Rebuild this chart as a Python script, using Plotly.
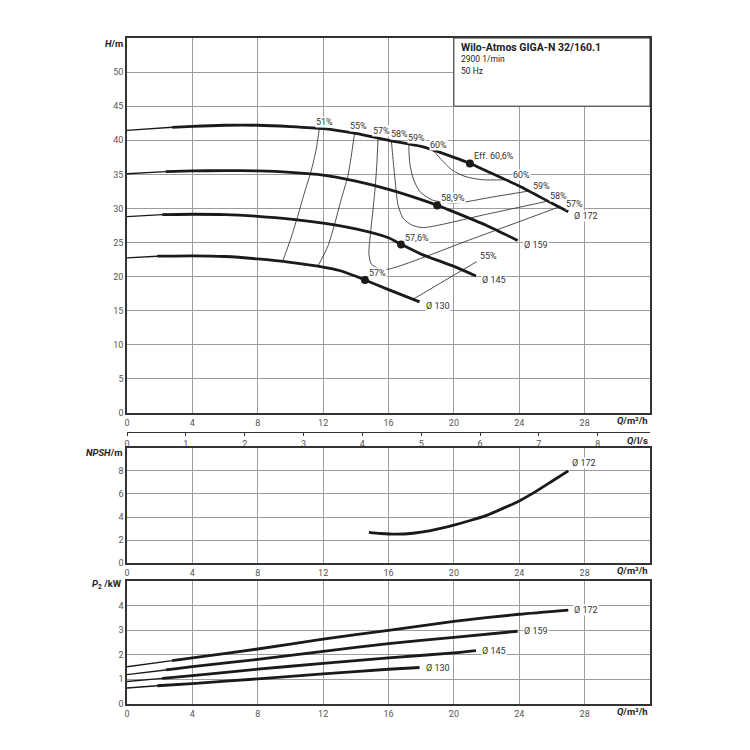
import plotly.graph_objects as go

# ---------------- data ----------------
diameters = ["Ø 172", "Ø 159", "Ø 145", "Ø 130"]

# Q-H curves (Q in m3/h, H in m); first two points = thin extrapolated start
Q_172 = [0, 2.76, 4, 6, 8, 10, 12, 14, 16, 18, 20, 21, 22, 24, 26, 27]
H_172 = [41.45, 41.9, 42.05, 42.2, 42.2, 42.0, 41.7, 41.0, 40.0, 39.1, 37.5, 36.6, 35.5, 33.3, 30.75, 29.5]
Q_159 = [0, 2.36, 4, 6, 8, 10, 12, 14, 16, 18, 19, 20, 22, 23.9]
H_159 = [35.1, 35.4, 35.5, 35.55, 35.5, 35.3, 34.9, 34.0, 32.8, 31.3, 30.45, 29.5, 27.5, 25.3]
Q_145 = [0, 2.15, 4, 6, 8, 10, 12, 14, 16, 16.8, 18, 20, 21.35]
H_145 = [28.8, 29.1, 29.15, 29.1, 28.85, 28.45, 27.85, 27.0, 25.7, 24.7, 23.3, 21.5, 20.1]
Q_130 = [0, 1.85, 4, 6, 8, 10, 12, 13, 14, 14.56, 16, 17.9]
H_130 = [22.75, 23.0, 23.05, 22.95, 22.6, 22.1, 21.4, 20.9, 20.05, 19.5, 18.1, 16.3]

# best efficiency points
bep_Q = [20.98, 18.98, 16.77, 14.56]
bep_H = [36.6, 30.45, 24.7, 19.5]
bep_text = ["Eff. 60,6%", "58,9%", "57,6%", ""]

# iso-efficiency lines
eta51_Q = [11.77, 11.57, 11.26, 10.85, 10.44, 10.03, 9.52]
eta51_H = [41.75, 38.63, 35.44, 32.26, 28.82, 25.65, 22.2]
eta55_Q = [13.92, 13.72, 13.51, 13.1, 12.69, 12.28, 11.67]
eta55_H = [41.05, 37.65, 34.7, 31.28, 27.6, 24.4, 21.5]
eta55b_Q = [17.55, 21.4]
eta55b_H = [16.75, 22.2]
eta57_Q = [15.36, 15.29, 15.19, 15.05, 14.9, 14.8, 14.94, 15.36, 15.97, 21.2, 26.41]
eta57_H = [40.3, 36.67, 33.24, 29.8, 26.38, 23.44, 21.87, 21.23, 21.09, 25.6, 30.2]
eta58_Q = [16.17, 16.28, 16.42, 16.58, 16.89, 17.4, 18.12, 22.0, 25.8]
eta58_H = [40.05, 37.16, 33.74, 30.54, 28.59, 27.6, 27.2, 29.15, 31.1]
eta59_Q = [17.24, 17.3, 17.5, 17.91, 18.63, 19.24, 20.06, 22.3, 24.57]
eta59_H = [39.45, 36.67, 34.47, 32.5, 31.28, 30.95, 30.75, 31.65, 32.55]
eta60_Q = [18.73, 19.24, 19.86, 20.68, 21.7, 23.13]
eta60_H = [38.5, 37.16, 35.69, 34.7, 34.22, 34.2]
iso_lines = [(eta51_Q, eta51_H), (eta55_Q, eta55_H), (eta55b_Q, eta55b_H),
             (eta57_Q, eta57_H), (eta58_Q, eta58_H), (eta59_Q, eta59_H), (eta60_Q, eta60_H)]

iso_label_text = ["51%", "55%", "57%", "58%", "59%", "60%", "60%", "59%", "58%", "57%", "57%", "55%"]
iso_label_Q = [12.08, 14.17, 15.56, 16.67, 17.71, 19.08, 24.12, 25.39, 26.41, 27.37, 15.31, 22.1]
iso_label_H = [42.65, 42.06, 41.32, 40.9, 40.35, 39.37, 34.85, 33.34, 31.87, 30.65, 20.6, 23.0]

# NPSH (Ø 172)
Q_npsh = [14.8, 15.5, 16.5, 17.5, 18.5, 20, 21, 22, 23, 24, 25, 26, 27]
NPSH = [2.68, 2.58, 2.52, 2.6, 2.8, 3.3, 3.7, 4.15, 4.75, 5.4, 6.2, 7.1, 8.0]

# P2 power curves (kW)
QP_172 = [0, 2.76, 4, 8, 12, 16, 20, 24, 27]
P_172 = [1.51, 1.76, 1.87, 2.23, 2.63, 2.99, 3.35, 3.64, 3.81]
QP_159 = [0, 2.36, 4, 8, 12, 16, 20, 23.9]
P_159 = [1.19, 1.38, 1.52, 1.81, 2.13, 2.45, 2.70, 2.95]
QP_145 = [0, 2.15, 4, 8, 12, 16, 20, 21.35]
P_145 = [0.91, 1.04, 1.15, 1.41, 1.65, 1.87, 2.07, 2.16]
QP_130 = [0, 1.85, 4, 8, 12, 16, 17.9]
P_130 = [0.65, 0.74, 0.83, 1.02, 1.22, 1.41, 1.48]

q_ticks = [0, 4, 8, 12, 16, 20, 24, 28]
ls_ticks = [0, 1, 2, 3, 4, 5, 6, 7, 8]
h_ticks = [0, 5, 10, 15, 20, 25, 30, 35, 40, 45, 50]
npsh_ticks = [0, 2, 4, 6, 8]
p_ticks = [0, 1, 2, 3, 4]

title_lines = ["Wilo-Atmos GIGA-N 32/160.1", "2900 1/min", "50 Hz"]

# ---------------- figure ----------------
W = Hgt = 750
OFF = 8  # page body margin of the html page
X0, X1, Y0, Y1 = 127, 650, 38, 704  # target screen plot box
ML, MT = X0 - OFF, Y0 - OFF
MR = W + OFF - X1
MB = Hgt + OFF - Y1
PH = Y1 - Y0


def py(p):
    return (Y1 - p) / PH


def px(p):
    return (p - X0) / (X1 - X0)


FONT = "Roboto"
BLACK = "#1a1a1a"
fig = go.Figure()


def curve(Q, V, xa, ya):
    # thin extrapolated start, thick main part
    fig.add_trace(go.Scatter(x=Q[:2], y=V[:2], mode="lines", xaxis=xa, yaxis=ya,
                             line=dict(color=BLACK, width=1.4), hoverinfo="skip"))
    fig.add_trace(go.Scatter(x=Q[1:], y=V[1:], mode="lines", xaxis=xa, yaxis=ya,
                             line=dict(color=BLACK, width=2.8, shape="spline", smoothing=0.6),
                             hoverinfo="skip"))


# iso efficiency lines
for q, h in iso_lines:
    fig.add_trace(go.Scatter(x=q, y=h, mode="lines", xaxis="x", yaxis="y",
                             line=dict(color="#3a3a3a", width=0.9, shape="spline", smoothing=0.7),
                             hoverinfo="skip"))

QH = [(Q_172, H_172), (Q_159, H_159), (Q_145, H_145), (Q_130, H_130)]
for q, h in QH:
    curve(q, h, "x", "y")

fig.add_trace(go.Scatter(x=bep_Q, y=bep_H, mode="markers", xaxis="x", yaxis="y",
                         marker=dict(color=BLACK, size=8), hoverinfo="skip"))

fig.add_trace(go.Scatter(x=Q_npsh, y=NPSH, mode="lines", xaxis="x2", yaxis="y2",
                         line=dict(color=BLACK, width=2.8, shape="spline", smoothing=0.6),
                         hoverinfo="skip"))

QP = [(QP_172, P_172), (QP_159, P_159), (QP_145, P_145), (QP_130, P_130)]
for q, p in QP:
    curve(q, p, "x3", "y3")

# empty trace so that the secondary l/s axis is drawn
fig.add_trace(go.Scatter(x=ls_ticks, y=[None] * len(ls_ticks), mode="lines",
                         xaxis="x4", yaxis="y", hoverinfo="skip"))

grid = "#9c9c9c"
frame = "#333333"
tickfont = dict(family=FONT, size=9, color="#555555")


def xax(anchor):
    return dict(range=[0, 32], tickvals=q_ticks, showgrid=True, gridcolor=grid, gridwidth=1,
                showline=True, mirror=True, linecolor=frame, linewidth=1.5, ticks="",
                zeroline=False, tickfont=tickfont, anchor=anchor, domain=[0, 1], fixedrange=True)


def yax(anchor, dom, rng, tv):
    return dict(range=rng, tickvals=tv, showgrid=True, gridcolor=grid, gridwidth=1,
                showline=True, mirror=True, linecolor=frame, linewidth=1.5, ticks="",
                zeroline=False, tickfont=tickfont, anchor=anchor, domain=dom, fixedrange=True)


fig.update_layout(
    width=W, height=Hgt, margin=dict(l=ML, r=MR, t=MT, b=MB),
    paper_bgcolor="white", plot_bgcolor="white", showlegend=False,
    font=dict(family=FONT, size=9, color="#333"),
    xaxis=xax("y"), yaxis=yax("x", [py(413), 1], [0, 55], h_ticks),
    xaxis2=xax("y2"), yaxis2=yax("x2", [py(563.3), py(447.7)], [0, 10], npsh_ticks),
    xaxis3=xax("y3"), yaxis3=yax("x3", [0, py(580.7)], [0, 5], p_ticks),
    xaxis4=dict(range=[0, 32 / 3.6], tickvals=ls_ticks, overlaying="x", anchor="free",
                position=py(432.3), side="bottom", showline=True, linecolor=frame, linewidth=1,
                ticks="outside", ticklen=3, tickcolor=frame, showgrid=False, zeroline=False,
                tickfont=tickfont, fixedrange=True),
)

# title box
fig.add_shape(type="rect", xref="x", yref="y", x0=20, x1=32, y0=45, y1=55,
              fillcolor="white", line=dict(color=frame, width=1), layer="above")
title_y = [47.3, 59.3, 71.0]
title_size = [10.5, 8.5, 8.5]
for t, yy, sz in zip(title_lines, title_y, title_size):
    fig.add_annotation(text=f"<b>{t}</b>" if sz > 9 else t, xref="paper", yref="paper",
                       x=px(459), y=py(yy), xanchor="left", yanchor="middle", showarrow=False,
                       font=dict(family=FONT, size=sz, color="#222"))

# axis titles
ax_titles = [("<b><i>H</i>/m</b>", 125, 43.3), ("<b><i>NPSH</i>/m</b>", 124, 452.7),
             ("<b><i>P</i><sub>2</sub> /kW</b>", 124, 584.5)]
for t, xx, yy in ax_titles:
    fig.add_annotation(text=t, xref="paper", yref="paper", x=px(xx), y=py(yy),
                       xanchor="right", yanchor="middle", showarrow=False,
                       font=dict(family=FONT, size=9.5, color="#222"))
q_titles = [("<b><i>Q</i>/m³/h</b>", 420.7), ("<b><i>Q</i>/l/s</b>", 440.0),
            ("<b><i>Q</i>/m³/h</b>", 570.5), ("<b><i>Q</i>/m³/h</b>", 711.5)]
for t, yy in q_titles:
    fig.add_annotation(text=t, xref="paper", yref="paper", x=px(650), y=py(yy),
                       xanchor="right", yanchor="middle", showarrow=False,
                       font=dict(family=FONT, size=9.5, color="#222"))

lab_font = dict(family=FONT, size=9, color="#333")

# diameter labels at curve ends
for name, (q, h) in zip(diameters, QH):
    fig.add_annotation(text=name, x=q[-1], y=h[-1], xref="x", yref="y", xanchor="left",
                       yanchor="middle", xshift=5, yshift=-4, showarrow=False, font=lab_font,
                       bgcolor="white", borderpad=0)
for name, (q, p) in zip(diameters, QP):
    fig.add_annotation(text=name, x=q[-1], y=p[-1], xref="x3", yref="y3", xanchor="left",
                       yanchor="middle", xshift=5, yshift=0, showarrow=False, font=lab_font,
                       bgcolor="white", borderpad=0)
fig.add_annotation(text=diameters[0], x=Q_npsh[-1], y=NPSH[-1], xref="x2", yref="y2",
                   xanchor="left", yanchor="middle", xshift=3, yshift=8, showarrow=False,
                   font=lab_font, bgcolor="white", borderpad=0)

# BEP labels
for t, q, h in zip(bep_text, bep_Q, bep_H):
    if t:
        fig.add_annotation(text=t, x=q, y=h, xref="x", yref="y", xanchor="left",
                           yanchor="middle", xshift=3, yshift=7, showarrow=False, font=lab_font,
                           bgcolor="white", borderpad=0)

# iso labels
for t, q, h in zip(iso_label_text, iso_label_Q, iso_label_H):
    fig.add_annotation(text=t, x=q, y=h, xref="x", yref="y", xanchor="center",
                       yanchor="middle", showarrow=False, font=lab_font,
                       bgcolor="white", borderpad=0)

fig.write_html("out.html")
